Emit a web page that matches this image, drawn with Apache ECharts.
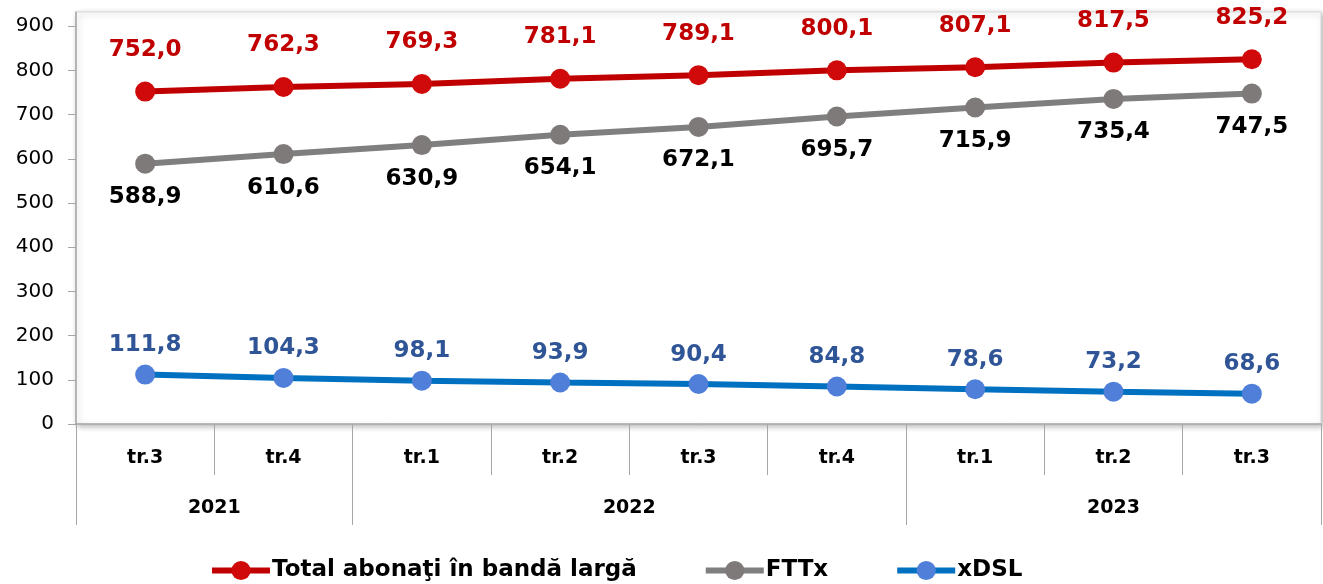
<!DOCTYPE html>
<html>
<head>
<meta charset="utf-8">
<script src="https://cdn.jsdelivr.net/npm/echarts@6/dist/echarts.min.js"></script>
<style>html,body{margin:0;padding:0;background:#fff}#c{width:1323px;height:584px}</style>
</head>
<body>
<div id="c"></div>
<script>
const quarters = ['tr.3','tr.4','tr.1','tr.2','tr.3','tr.4','tr.1','tr.2','tr.3'];
const years = ['2021','2022','2023'];
const yearSpans = [2, 4, 3];
const totalSeries = [752.0, 762.3, 769.3, 781.1, 789.1, 800.1, 807.1, 817.5, 825.2];
const fttxSeries = [588.9, 610.6, 630.9, 654.1, 672.1, 695.7, 715.9, 735.4, 747.5];
const xdslSeries = [111.8, 104.3, 98.1, 93.9, 90.4, 84.8, 78.6, 73.2, 68.6];
const yTicks = [0,100,200,300,400,500,600,700,800,900];
const names = ['Total abonaţi în bandă largă','FTTx','xDSL'];

const yearBounds = [0];
yearSpans.forEach(s => yearBounds.push(yearBounds[yearBounds.length-1] + s));
const yearCenters = yearSpans.map((s,i) => yearBounds[i] + s/2);

const fmt = v => v.toFixed(1).replace('.', ',');
const F = 'DejaVu Sans';

const chart = echarts.init(document.getElementById('c'));
function mkSeries(name, data, lineColor, markColor, labelColor, pos, dist){
  return {
    name, type:'line', data, xAxisIndex:0, yAxisIndex:0,
    symbol:'circle', symbolSize:20,
    lineStyle:{color:lineColor, width:6},
    itemStyle:{color:markColor},
    label:{show:true, position:pos, distance:dist, formatter:p=>fmt(p.value),
      color:labelColor, fontFamily:F, fontWeight:'bold', fontSize:23},
    z: 3
  };
}
chart.setOption({
  animation:false,
  grid:{left:76, right:2, top:12, bottom:160, show:true, backgroundColor:'#fff',
    borderColor:'#d9d9d9', borderWidth:1, shadowColor:'rgba(0,0,0,0.3)', shadowBlur:6, shadowOffsetX:2, shadowOffsetY:2},
  xAxis:[
    {type:'category', data:quarters, position:'bottom', boundaryGap:true,
      axisLine:{lineStyle:{color:'#a6a6a6', width:1.5}},
      axisTick:{show:true, interval:0, length:51, lineStyle:{color:'#a6a6a6'}},
      axisLabel:{interval:0, margin:25, color:'#000', fontFamily:F, fontWeight:'bold', fontSize:19},
      splitLine:{show:false}},
    {type:'value', min:0, max:quarters.length, position:'bottom',
      axisLine:{show:false},
      axisTick:{show:true, customValues:yearBounds, length:101, lineStyle:{color:'#a6a6a6'}},
      axisLabel:{customValues:yearCenters, margin:75, color:'#000', fontFamily:F, fontWeight:'bold', fontSize:19,
        formatter:v=>{const i=yearCenters.indexOf(v); return i>=0?years[i]:'';}},
      splitLine:{show:false}}
  ],
  yAxis:{type:'value', min:0, max:932,
    axisLine:{show:true, lineStyle:{color:'#a6a6a6', width:1.5}},
    axisTick:{show:true, customValues:yTicks, length:8, lineStyle:{color:'#a6a6a6'}},
    axisLabel:{customValues:yTicks, margin:22, color:'#000', fontFamily:F, fontSize:20},
    splitLine:{show:false}},
  legend:{left:204, top:554, itemWidth:58, itemHeight:24, itemGap:66,
    lineStyle:{width:6},
    textStyle:{color:'#000', fontFamily:F, fontWeight:'bold', fontSize:23, padding:[0,0,0,-3]},
    data:names},
  series:[
    mkSeries(names[0], totalSeries, '#C00000', '#D00A0A', '#C00000', 'top', 20),
    mkSeries(names[1], fttxSeries, '#7F7F7F', '#7F7A7A', '#000000', 'bottom', 12),
    mkSeries(names[2], xdslSeries, '#0070C0', '#4F7FD8', '#2F5597', 'top', 8)
  ]
});
</script>
</body>
</html>
